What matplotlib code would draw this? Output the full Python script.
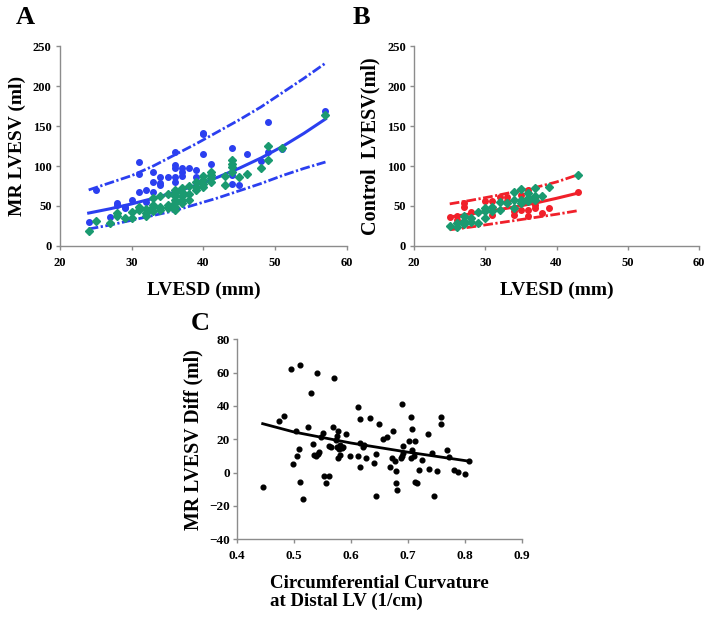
import numpy as np
import matplotlib
matplotlib.use("Agg")
import matplotlib.pyplot as plt

plt.rcParams['font.family'] = ['Liberation Serif', 'DejaVu Serif']
plt.rcParams['font.weight'] = 'bold'

# ---- Panel A: MR LVESV vs LVESD ----
a_blue_x = [24, 25, 27, 28, 28, 29, 29, 30, 31, 31, 31, 32, 32, 33, 33, 33, 34, 34, 34,
            35, 36, 36, 36, 36, 36, 37, 37, 37, 38, 39, 39, 40, 40, 40, 41, 44, 44, 44,
            45, 46, 48, 49, 49, 51, 57]
a_blue_y = [30, 70, 36, 54, 51, 47, 49, 57.5, 105, 89.5, 68, 70, 55, 93, 79.5, 68, 86.5, 79, 76,
            86.5, 118, 101, 98, 86, 80, 97, 93, 88, 98, 95, 86, 142, 140, 115, 102, 122, 89, 78,
            76, 115, 106, 155, 117, 121, 169]
a_green_x = [24, 25, 27, 28, 28, 29, 30, 30, 31, 31, 32, 32, 32, 33, 33, 33, 33, 34, 34, 34,
             35, 35, 35, 36, 36, 36, 36, 36, 36, 36, 37, 37, 37, 37, 37, 38, 38, 38, 39, 39, 39,
             40, 40, 40, 40, 41, 41, 41, 41, 43, 43, 44, 44, 44, 44, 45, 46, 48, 49, 49, 51, 57]
a_green_y = [18, 31, 28.5, 41, 37, 35, 42, 35, 48, 45, 46, 41, 37, 60, 51, 48, 43, 62, 49, 45,
             65, 51, 47, 70, 66, 62, 57.5, 53, 49, 45, 72, 68, 62, 57.5, 53, 75.5, 65.5, 57.5, 80, 74, 70,
             87.5, 82.5, 78, 74, 93, 89, 84.5, 80.5, 87.5, 76, 107, 103, 99, 93, 86, 90, 97, 125, 107.5, 123, 164]
a_fit_x = [24, 27, 30, 33, 36, 39, 42, 45, 48, 51, 54, 57]
a_fit_y = [41, 46.4, 52.5, 59.4, 67.2, 76, 86, 97.3, 110, 124.5, 141, 159]
a_up_y = [70, 79, 88, 100, 114, 128, 143, 158, 174, 192, 210, 229]
a_lo_y = [21, 26, 32, 38, 44, 52, 60, 69, 78, 88, 97, 105]

# ---- Panel B: Control LVESV vs LVESD ----
b_red_x = [25, 26, 26, 27, 27, 28, 30, 30, 31, 31, 32, 33, 33, 34, 34, 35, 35,
           36, 36, 36, 36, 37, 37, 37, 38, 39, 43]
b_red_y = [36.5, 37, 32.5, 53, 49, 42, 55.5, 45.5, 55.5, 39, 61.5, 61.5, 56, 43, 39, 64, 45,
           70, 66, 45, 37, 60, 51, 47, 41, 47, 67]
b_green_x = [25, 26, 26, 27, 27, 27, 28, 28, 29, 29, 30, 30, 30, 31, 31, 32, 32, 33,
             34, 34, 34, 35, 35, 35, 36, 36, 36, 37, 37, 37, 38, 39, 43]
b_green_y = [25, 29, 24, 37, 30.5, 27.5, 34.5, 30, 42, 29, 47, 43, 34.5, 49, 44, 55, 45, 53,
             68, 57.5, 47, 71, 57.5, 53.5, 66, 60, 55.5, 72, 62, 57.5, 62, 74, 89]
b_fit_x = [25, 28, 31, 34, 37, 40, 43]
b_fit_y = [36, 40, 44, 48.5, 53.5, 59.5, 66]
b_up_y = [52.5, 57, 62, 67.5, 73, 80, 89]
b_lo_y = [20, 23.5, 27.5, 31.5, 35.5, 39.5, 44]

# ---- Panel C: LVESV difference vs curvature ----
c_x = [0.446, 0.474, 0.482, 0.494, 0.510, 0.499, 0.505, 0.509, 0.511, 0.515, 0.504,
       0.525, 0.530, 0.534, 0.540, 0.535, 0.538, 0.542, 0.543, 0.550, 0.548, 0.553,
       0.561, 0.556, 0.570, 0.569, 0.575, 0.578, 0.561, 0.565, 0.573, 0.576, 0.579,
       0.581, 0.584, 0.586, 0.577, 0.580, 0.592, 0.599, 0.612, 0.615, 0.613, 0.615,
       0.616, 0.621, 0.622, 0.627, 0.634, 0.640, 0.643, 0.643, 0.649, 0.657, 0.664,
       0.673, 0.672, 0.677, 0.669, 0.679, 0.679, 0.680, 0.689, 0.691, 0.691, 0.689,
       0.688, 0.701, 0.705, 0.707, 0.707, 0.706, 0.711, 0.712, 0.713, 0.715, 0.719,
       0.725, 0.735, 0.737, 0.743, 0.746, 0.751, 0.758, 0.758, 0.768, 0.772, 0.780,
       0.787, 0.800, 0.807]
c_y = [-8.8, 30.8, 34.2, 62.2, 64.8, 5.2, 9.8, 14.4, -5.4, -16.2, 24.8,
       27.6, 48, 17, 59.8, 10.6, 10.2, 11, 12.4, 24, 21.4, -1.8,
       -1.8, -6.2, 56.8, 27.6, 22.2, 25, 15.8, 15.4, 19.4, 15.4, 14.4,
       16.4, 15, 15.4, 8.8, 10.4, 23, 10.2, 39.6, 32, 10, 3.6,
       17.6, 15.6, 16.4, 8.6, 33, 5.6, 11.4, -14.4, 29.4, 20.2, 21.4,
       25.2, 8.6, 6.8, 3.4, 0.8, -6, -10.4, 41, 16, 11.6, 10.2,
       8.6, 19.2, 33.2, 26, 13.6, 8.8, 10, 19, -5.8, -6.4, 1.4,
       7.4, 23, 2, 11.8, -14.4, 1, 33.4, 29.4, 13.6, 9.4, 1.4,
       0.4, -0.6, 6.8]
c_fit_x = [0.445, 0.5, 0.6, 0.7, 0.807]
c_fit_y = [29.3, 24.3, 17.7, 12.2, 6.8]

blue = '#2b3ff0'
green = '#1a9a70'
red = '#f0202a'
axis_grey = '#8c8c8c'
dashdot = (3.5, 0.9, 0.8, 0.9)


def style_axes(ax, xticks, yticks, xfmt='{:g}', size=9, xpad=5, ypad=3):
    for s in ['top', 'right']:
        ax.spines[s].set_visible(False)
    for s in ['left', 'bottom']:
        ax.spines[s].set_color(axis_grey)
        ax.spines[s].set_linewidth(1)
    ax.set_xticks(xticks)
    ax.set_yticks(yticks)
    ax.set_xticklabels([xfmt.format(v) for v in xticks])
    ax.set_xlim(xticks[0], xticks[-1])
    ax.set_ylim(yticks[0], yticks[-1])
    ax.tick_params(direction='out', length=3, width=1, color=axis_grey, labelsize=size)
    ax.tick_params(axis='x', pad=xpad)
    ax.tick_params(axis='y', pad=ypad)
    for lab in ax.get_xticklabels() + ax.get_yticklabels():
        lab.set_fontweight('bold')


fig = plt.figure(figsize=(7.14, 6.19), dpi=100)

# Panel A
axA = fig.add_axes([0.084, 0.603, 0.402, 0.322])
axA.plot(a_fit_x, a_up_y, color=blue, lw=2, dashes=dashdot)
axA.plot(a_fit_x, a_lo_y, color=blue, lw=2, dashes=dashdot)
axA.plot(a_fit_x, a_fit_y, color=blue, lw=2.2)
axA.plot(a_blue_x, a_blue_y, 'o', color=blue, ms=4, mec=blue)
axA.plot(a_green_x, a_green_y, 'D', color=green, ms=3.6, mec=green)
style_axes(axA, [20, 30, 40, 50, 60], [0, 50, 100, 150, 200, 250])
axA.set_xlabel('LVESD (mm)', fontsize=14, fontweight='bold', labelpad=9)
axA.set_ylabel('MR LVESV (ml)', fontsize=14, fontweight='bold', labelpad=5)

# Panel B
axB = fig.add_axes([0.580, 0.603, 0.399, 0.322])
axB.plot(b_fit_x, b_up_y, color=red, lw=2, dashes=dashdot)
axB.plot(b_fit_x, b_lo_y, color=red, lw=2, dashes=dashdot)
axB.plot(b_fit_x, b_fit_y, color=red, lw=2.2)
axB.plot(b_red_x, b_red_y, 'o', color=red, ms=4, mec=red)
axB.plot(b_green_x, b_green_y, 'D', color=green, ms=3.6, mec=green)
style_axes(axB, [20, 30, 40, 50, 60], [0, 50, 100, 150, 200, 250])
axB.set_xlabel('LVESD (mm)', fontsize=14, fontweight='bold', labelpad=9)
axB.set_ylabel('Control  LVESV(ml)', fontsize=14.5, fontweight='bold', labelpad=5)

# Panel C
axC = fig.add_axes([0.332, 0.129, 0.399, 0.323])
axC.plot(c_x, c_y, 'o', color='black', ms=3.4)
axC.plot(c_fit_x, c_fit_y, color='black', lw=2)
style_axes(axC, [0.4, 0.5, 0.6, 0.7, 0.8, 0.9], [-40, -20, 0, 20, 40, 60, 80], '{:.1f}',
           size=9.5, xpad=5, ypad=2)
axC.set_xlabel('Circumferential Curvature\nat Distal LV (1/cm)', fontsize=13.6,
               fontweight='bold', labelpad=9, multialignment='left', linespacing=1.05)
axC.set_ylabel('MR LVESV Diff (ml)', fontsize=14.3, fontweight='bold', labelpad=4)

fig.text(0.035, 0.972, 'A', fontsize=19, fontweight='bold', ha='center', va='center')
fig.text(0.506, 0.972, 'B', fontsize=19, fontweight='bold', ha='center', va='center')
fig.text(0.280, 0.478, 'C', fontsize=19, fontweight='bold', ha='center', va='center')

fig.savefig('out.png', dpi=100)
